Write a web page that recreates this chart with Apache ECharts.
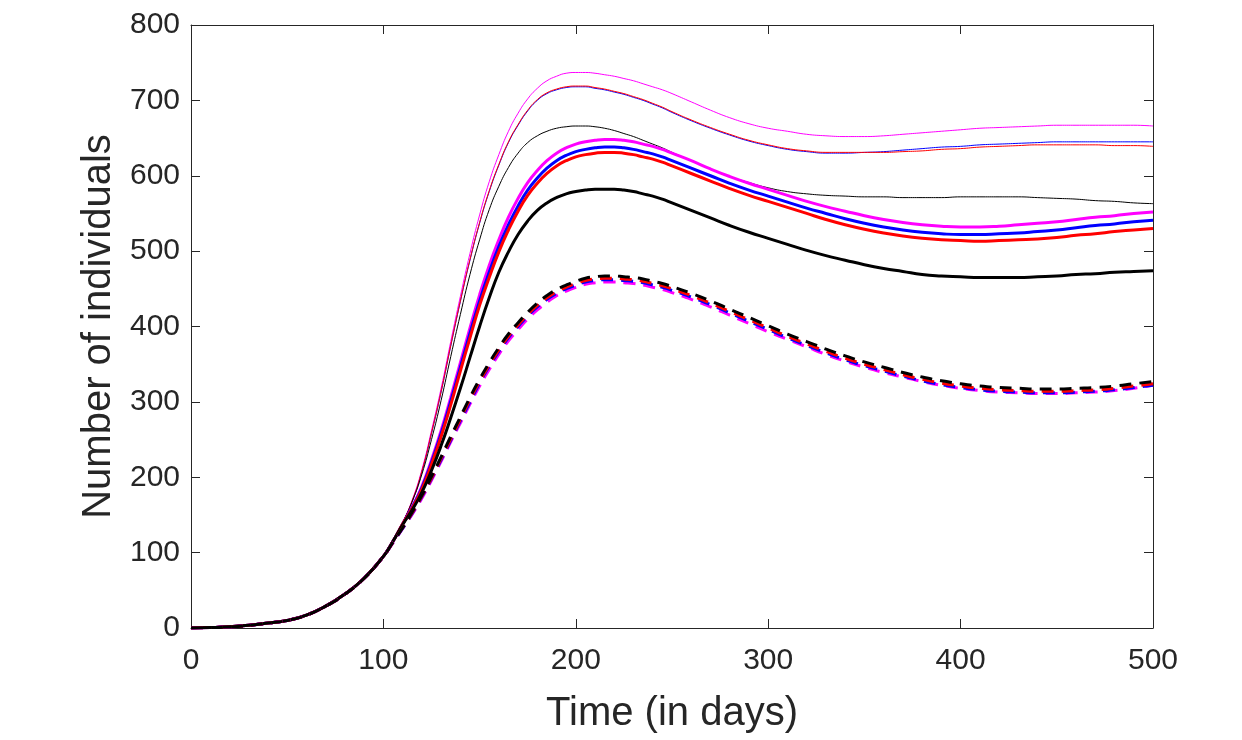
<!DOCTYPE html>
<html>
<head>
<meta charset="utf-8">
<script src="https://cdn.jsdelivr.net/npm/echarts@6/dist/echarts.min.js"></script>
<style>
  html, body { margin: 0; padding: 0; background: #fff; }
  #main { width: 1242px; height: 740px; }
</style>
</head>
<body>
<div id="main"></div>
<script>
// time grid: 10 days, 5 days around the peak, then 10 days again
var days = [0, 10, 20, 30, 40, 50, 60, 70, 80, 90, 100,
  105, 110, 115, 120, 125, 130, 135, 140, 145, 150,
  155, 160, 165, 170, 175, 180, 185, 190, 195, 200,
  205, 210, 215, 220, 225, 230, 235, 240, 245, 250,
  260, 270, 280, 290, 300, 310, 320, 330, 340, 350,
  360, 370, 380, 390, 400, 410, 420, 430, 440, 450,
  460, 470, 480, 490, 500];

// all curves share the first 100 days
var early = [0, 0.5, 1.5, 3.5, 6.5, 10, 17, 29, 45, 66, 95];

// day 105 .. 500
var thinMagenta = [115, 140, 170, 210, 262, 318, 380, 440, 497, 548,
  592, 628, 659, 683, 702, 716, 726, 732, 736, 737,
  737, 736, 734, 732, 729, 726, 722, 718, 714, 709,
  698, 687, 677, 669, 663, 659, 655, 653, 652, 652,
  653, 655, 657, 659, 661, 663, 664, 665, 666, 667,
  667, 667, 667, 667, 666];
var thinBlue = [115, 140, 168, 207, 258, 313, 374, 433, 488, 537,
  579, 614, 644, 667, 686, 700, 709, 714, 717, 718,
  718, 716, 714, 711, 708, 704, 700, 695, 690, 684,
  673, 663, 654, 646, 640, 635, 632, 630, 630, 631,
  632, 634, 636, 638, 639, 641, 642, 643, 644, 645,
  645, 645, 645, 645, 645];
var thinRed = [115, 140, 169, 208, 259, 314, 375, 434, 489, 538,
  580, 615, 645, 668, 687, 701, 710, 715, 718, 719,
  719, 717, 715, 712, 709, 705, 701, 696, 691, 685,
  674, 664, 655, 647, 641, 636, 633, 631, 631, 631,
  631, 632, 633, 635, 636, 638, 639, 640, 641, 641,
  641, 641, 640, 640, 639];
var thinBlack = [115, 140, 168, 204, 250, 302, 360, 416, 469, 515,
  555, 586, 611, 630, 644, 653, 659, 663, 665, 666,
  666, 665, 663, 660, 656, 652, 647, 642, 637, 631,
  620, 609, 599, 591, 584, 579, 576, 574, 573, 572,
  572, 571, 571, 571, 572, 572, 572, 572, 571, 570,
  569, 567, 566, 564, 563];

var thickMagenta = [115, 138, 161, 188, 223, 262, 306, 352, 398, 442,
  481, 515, 545, 570, 591, 607, 620, 630, 637, 642,
  645, 647, 648, 648, 647, 645, 642, 639, 635, 630,
  620, 609, 599, 590, 582, 574, 566, 559, 553, 547,
  542, 538, 535, 533, 532, 532, 533, 535, 537, 539,
  542, 545, 547, 550, 552];
var thickBlue = [115, 138, 160, 186, 220, 258, 301, 346, 391, 434,
  472, 506, 535, 560, 581, 597, 610, 620, 627, 632,
  635, 637, 638, 638, 637, 635, 632, 629, 625, 620,
  610, 600, 590, 581, 573, 565, 557, 550, 543, 537,
  532, 528, 525, 523, 522, 522, 523, 524, 526, 528,
  531, 534, 536, 539, 541];
var thickRed = [115, 138, 159, 184, 217, 254, 296, 341, 385, 428,
  465, 499, 528, 553, 574, 590, 603, 613, 620, 625,
  628, 630, 631, 631, 630, 628, 625, 622, 618, 613,
  603, 593, 583, 574, 566, 558, 550, 542, 535, 529,
  524, 520, 517, 515, 514, 513, 514, 515, 516, 518,
  521, 523, 526, 528, 530];
var thickBlack = [115, 137, 157, 180, 209, 242, 279, 318, 359, 400,
  438, 472, 499, 522, 540, 554, 564, 571, 576, 579,
  581, 582, 582, 582, 581, 579, 576, 573, 569, 564,
  554, 544, 534, 525, 517, 509, 501, 494, 488, 482,
  477, 473, 469, 467, 466, 465, 465, 465, 466, 467,
  469, 470, 472, 473, 474];

var dashMagenta = [113, 132, 151, 172, 196, 221, 247, 272, 297, 321,
  343, 363, 381, 396, 410, 422, 432, 441, 447, 452,
  456, 458, 459, 459, 458, 457, 455, 452, 449, 445,
  436, 426, 415, 404, 393, 383, 373, 363, 354, 346,
  339, 333, 327, 322, 318, 315, 313, 312, 311, 311,
  312, 313, 315, 318, 322];
var dashBlue = [114, 132, 152, 174, 198, 223, 249, 275, 300, 325,
  347, 367, 385, 400, 414, 426, 436, 444, 450, 455,
  459, 461, 462, 462, 461, 460, 458, 455, 452, 448,
  439, 429, 418, 407, 396, 385, 375, 365, 356, 348,
  341, 334, 328, 323, 319, 316, 314, 313, 312, 312,
  313, 314, 316, 319, 322];
var dashRed = [114, 133, 153, 175, 199, 225, 251, 277, 303, 327,
  349, 369, 387, 402, 416, 428, 438, 446, 452, 457,
  461, 463, 464, 464, 463, 462, 460, 457, 454, 450,
  441, 431, 420, 409, 398, 387, 377, 367, 358, 350,
  343, 336, 330, 325, 321, 318, 316, 315, 314, 314,
  315, 316, 318, 321, 324];
var dashBlack = [114, 133, 154, 176, 201, 227, 254, 280, 306, 330,
  352, 372, 390, 405, 419, 431, 441, 449, 455, 460,
  464, 466, 467, 467, 466, 465, 463, 460, 457, 453,
  444, 434, 423, 412, 401, 390, 380, 370, 361, 353,
  346, 339, 333, 328, 324, 321, 319, 318, 317, 317,
  318, 319, 321, 324, 327];

var xTicks = [0, 100, 200, 300, 400, 500];
var yTicks = [0, 100, 200, 300, 400, 500, 600, 700, 800];

var axisColor = '#262626';
var font = 'Liberation Sans, Arial, Helvetica, sans-serif';

function pairs(late) {
  var vals = early.concat(late);
  return days.map(function (d, i) {
    return [d, vals[i]];
  });
}

function line(name, late, color, width, dashed) {
  return {
    name: name,
    type: 'line',
    data: pairs(late),
    smooth: 0.5,
    showSymbol: false,
    symbol: 'none',
    silent: true,
    lineStyle: {
      color: color,
      width: width,
      type: dashed ? [12, 8] : 'solid'
    }
  };
}

function axisBase(pos, show) {
  return {
    type: 'value',
    position: pos,
    axisLine: { show: true, onZero: false, lineStyle: { color: axisColor, width: 1 } },
    axisTick: { show: true, inside: true, length: 9, lineStyle: { color: axisColor, width: 1 } },
    splitLine: { show: false },
    axisLabel: {
      show: show,
      color: axisColor,
      fontSize: 30,
      fontFamily: font
    }
  };
}

var xBottom = axisBase('bottom', true);
xBottom.min = xTicks[0];
xBottom.max = xTicks[xTicks.length - 1];
xBottom.interval = 100;
xBottom.axisLabel.margin = 18;
xBottom.name = 'Time (in days)';
xBottom.nameLocation = 'middle';
xBottom.nameGap = 66;
xBottom.nameTextStyle = { color: axisColor, fontSize: 40, fontFamily: font };

var xTop = axisBase('top', false);
xTop.min = xTicks[0];
xTop.max = xTicks[xTicks.length - 1];
xTop.interval = 100;

var yLeft = axisBase('left', true);
yLeft.min = yTicks[0];
yLeft.max = yTicks[yTicks.length - 1];
yLeft.interval = 100;
yLeft.axisLabel.margin = 11;
yLeft.name = 'Number of individuals';
yLeft.nameLocation = 'middle';
yLeft.nameRotate = 90;
yLeft.nameGap = 72;
yLeft.nameTextStyle = { color: axisColor, fontSize: 40, fontFamily: font };

var yRight = axisBase('right', false);
yRight.min = yTicks[0];
yRight.max = yTicks[yTicks.length - 1];
yRight.interval = 100;

let options = {
  animation: false,
  backgroundColor: '#ffffff',
  grid: { left: 191, right: 89, top: 25, bottom: 112, containLabel: false },
  xAxis: [xBottom, xTop],
  yAxis: [yLeft, yRight],
  series: [
    line('thin magenta', thinMagenta, '#ff00ff', 1),
    line('thin blue', thinBlue, '#0000ff', 1),
    line('thin red', thinRed, '#ff0000', 1),
    line('thin black', thinBlack, '#000000', 1),
    line('thick magenta', thickMagenta, '#ff00ff', 3),
    line('thick blue', thickBlue, '#0000ff', 3),
    line('thick red', thickRed, '#ff0000', 3),
    line('thick black', thickBlack, '#000000', 3),
    line('dash magenta', dashMagenta, '#ff00ff', 3, true),
    line('dash blue', dashBlue, '#0000ff', 3, true),
    line('dash red', dashRed, '#ff0000', 3, true),
    line('dash black', dashBlack, '#000000', 3, true)
  ]
};

var chart = echarts.init(document.getElementById('main'), null, { renderer: 'canvas' });
chart.setOption(options);
</script>
</body>
</html>
